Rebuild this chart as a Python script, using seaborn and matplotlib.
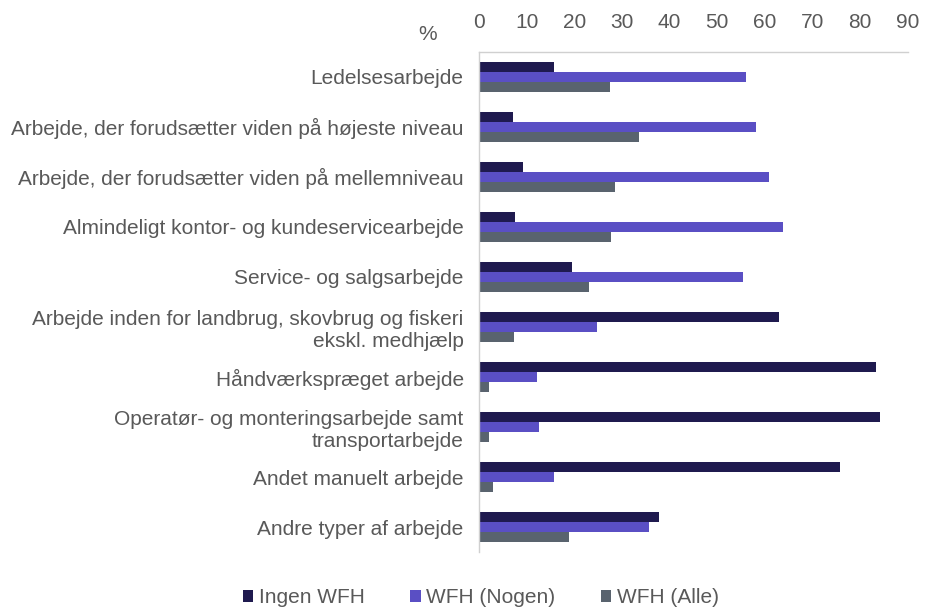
import pandas as pd
import matplotlib.pyplot as plt
import seaborn as sns

# Kategorier og værdier (%)
categories = [
    "Ledelsesarbejde",
    "Arbejde, der forudsætter viden på højeste niveau",
    "Arbejde, der forudsætter viden på mellemniveau",
    "Almindeligt kontor- og kundeservicearbejde",
    "Service- og salgsarbejde",
    "Arbejde inden for landbrug, skovbrug og fiskeri\nekskl. medhjælp",
    "Håndværkspræget arbejde",
    "Operatør- og monteringsarbejde samt\ntransportarbejde",
    "Andet manuelt arbejde",
    "Andre typer af arbejde",
]
ingen_wfh = [15.7, 7.1, 9.2, 7.6, 19.6, 63.0, 83.4, 84.1, 75.7, 37.7]
wfh_nogen = [56.0, 58.2, 60.9, 63.8, 55.4, 24.7, 12.1, 12.6, 15.7, 35.8]
wfh_alle = [27.5, 33.5, 28.5, 27.7, 23.1, 7.3, 2.2, 2.2, 3.0, 18.8]

series = ["Ingen WFH", "WFH (Nogen)", "WFH (Alle)"]
colors = ["#1f1a4f", "#5a4fc4", "#59636e"]

df = pd.DataFrame({
    "kategori": categories * 3,
    "gruppe": [s for s in series for _ in categories],
    "pct": ingen_wfh + wfh_nogen + wfh_alle,
})

sns.set_theme(style="white")
plt.rcParams["font.family"] = ["Liberation Sans", "DejaVu Sans"]

fig = plt.figure(figsize=(9.3, 6.1), dpi=100)
ax = fig.add_axes([0.515, 0.095, 0.461, 0.82])

sns.barplot(data=df, x="pct", y="kategori", hue="gruppe", order=categories,
            hue_order=series, palette=colors, width=0.6, saturation=1,
            linewidth=0, ax=ax, legend=True)

ax.set_xlim(0, 90)
ax.set_xticks(range(0, 91, 10))
ax.xaxis.tick_top()
ax.set_xlabel("")
ax.set_ylabel("")
ax.tick_params(axis="both", length=0, colors="#595959", labelsize=15)
ax.tick_params(axis="y", pad=11)
ax.tick_params(axis="x", pad=14)
for lab in ax.get_yticklabels():
    lab.set_multialignment("right")

for side in ["right", "bottom"]:
    ax.spines[side].set_visible(False)
for side in ["top", "left"]:
    ax.spines[side].set_color("#d0d0d0")
    ax.spines[side].set_linewidth(1)

fig.text(0.46, 0.943, "%", color="#595959", fontsize=15, ha="center", va="center")

handles, labels = ax.get_legend_handles_labels()
ax.get_legend().remove()
fig.legend(handles, labels, loc="center", bbox_to_anchor=(0.517, 0.02), ncol=3,
           frameon=False, fontsize=15, handlelength=0.5, handleheight=0.5,
           handletextpad=0.25, columnspacing=2.2, labelcolor="#595959")

fig.savefig("out.png", dpi=100)
